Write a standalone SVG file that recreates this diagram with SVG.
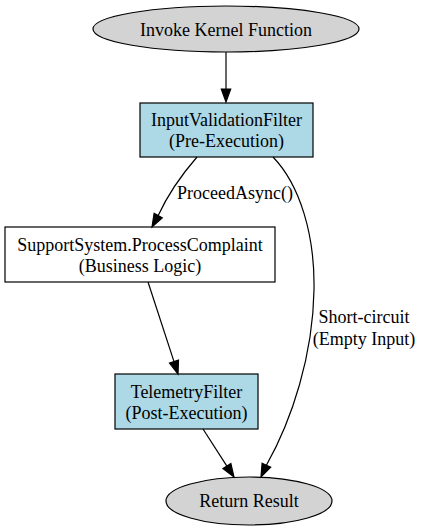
<svg xmlns="http://www.w3.org/2000/svg" width="421" height="531" viewBox="0 0 421 531">
<style>
text{font-family:"Liberation Serif","Times New Roman",serif;font-size:18px;fill:#000;text-anchor:middle}
.n{stroke:#000;stroke-width:1.2}
.e{fill:none;stroke:#000;stroke-width:1.2}
.a{fill:#000;stroke:#000;stroke-width:1.2}
</style>
<rect width="421" height="531" fill="#fff"/>
<g id="start"><ellipse class="n" cx="226" cy="29" rx="133" ry="23" fill="#d3d3d3"/><text x="226" y="36">Invoke Kernel Function</text></g>
<g id="ivf"><rect class="n" x="140" y="103" width="173" height="54" fill="#add8e6"/><text x="226.5" y="126">InputValidationFilter</text><text x="226.5" y="147">(Pre-Execution)</text></g>
<g id="ss"><rect class="n" x="5" y="227" width="270" height="55" fill="#fff"/><text x="140" y="251">SupportSystem.ProcessComplaint</text><text x="140" y="272">(Business Logic)</text></g>
<g id="tf"><rect class="n" x="115" y="374" width="143" height="55" fill="#add8e6"/><text x="186.5" y="398">TelemetryFilter</text><text x="186.5" y="419">(Post-Execution)</text></g>
<g id="end"><ellipse class="n" cx="249" cy="501" rx="83" ry="24" fill="#d3d3d3"/><text x="249" y="507">Return Result</text></g>
<g id="edges">
<path class="e" d="M226,52 L226,89"/>
<polygon class="a" points="221.3,89 230.7,89 226,102"/>
<path class="e" d="M197,157 C184,172 168,194 158.2,215.6"/>
<polygon class="a" points="154.1,213.35 162.3,217.85 152,227"/>
<text x="235" y="199">ProceedAsync()</text>
<path class="e" d="M273,157 C300,185 315,235 314,290 C313,355 292,420 266.4,465.2"/>
<polygon class="a" points="262.1,463.25 270.7,467.15 261,477"/>
<text x="364" y="323">Short-circuit</text>
<text x="364" y="345">(Empty Input)</text>
<path class="e" d="M148,282 L174,361.6"/>
<polygon class="a" points="178.5,360.1 169.5,363.1 178,374"/>
<path class="e" d="M203,429 L226.9,466.1"/>
<polygon class="a" points="230.85,463.55 222.95,468.65 234,477"/>
</g>
</svg>
